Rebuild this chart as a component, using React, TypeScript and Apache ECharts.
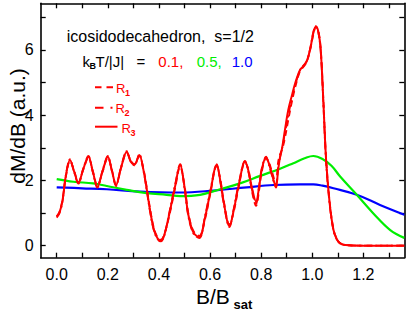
import React, { useEffect, useRef } from "react";
import * as echarts from "echarts";

// ---------- data ----------
const redX = [
  0.0, 0.01, 0.022, 0.036, 0.052, 0.068, 0.085, 0.104, 0.124, 0.142, 0.159, 0.18, 0.2, 0.216, 0.232, 0.252,
  0.274, 0.29, 0.304, 0.323, 0.34, 0.352, 0.365, 0.38, 0.395, 0.407, 0.42, 0.44, 0.463, 0.483, 0.5, 0.515,
  0.535, 0.558, 0.58, 0.6, 0.626, 0.64, 0.652, 0.676, 0.693, 0.711, 0.737, 0.75, 0.763, 0.78, 0.792, 0.802,
  0.819, 0.831, 0.841, 0.858, 0.866, 0.874, 0.882, 0.893, 0.906, 0.92, 0.933, 0.952, 0.965, 0.978, 0.991,
  1.005, 1.014, 1.024, 1.033, 1.043, 1.054, 1.068, 1.083, 1.096, 1.109, 1.13, 1.2, 1.3, 1.36,
];
// R3 (solid)
const r3Y = [
  0.89, 1.0, 1.35, 2.15, 2.63, 2.28, 1.93, 2.35, 2.73, 2.25, 1.81, 2.3, 2.73, 2.3, 1.86, 2.4,
  2.88, 2.58, 2.48, 2.78, 2.3, 1.75, 1.1, 0.5, 0.22, 0.15, 0.3, 0.95, 1.81, 2.48, 1.8, 0.95,
  0.4, 0.26, 0.85, 1.6, 2.48, 2.0, 1.4, 0.6, 1.1, 1.81, 2.58, 2.3, 1.81, 1.35, 1.8, 2.32,
  2.71, 2.5, 2.22, 1.81, 2.3, 2.73, 3.0, 3.55, 4.16, 4.6, 4.98, 5.39, 5.5, 5.65, 6.0,
  6.55, 6.72, 6.55, 6.0, 4.47, 2.63, 1.3, 0.48, 0.2, 0.07, 0.02, 0.0, 0.0, 0.0,
];
// R1 (dashed)
const r1Y = [
  0.9, 1.02, 1.38, 2.12, 2.6, 2.3, 1.95, 2.33, 2.7, 2.27, 1.84, 2.28, 2.7, 2.32, 1.88, 2.38,
  2.85, 2.6, 2.5, 2.75, 2.33, 1.8, 1.15, 0.55, 0.25, 0.18, 0.33, 0.9, 1.75, 2.42, 1.85, 1.0,
  0.45, 0.3, 0.8, 1.55, 2.44, 2.05, 1.45, 0.65, 1.05, 1.75, 2.55, 2.35, 1.7, 1.22, 1.7, 2.25,
  2.68, 2.55, 2.3, 1.9, 2.55, 2.8, 2.95, 3.3, 3.85, 4.4, 4.85, 5.35, 5.48, 5.63, 5.98,
  6.5, 6.7, 6.57, 6.05, 4.55, 2.7, 1.35, 0.5, 0.21, 0.08, 0.02, 0.0, 0.0, 0.0,
];
// R2 (dash-dot)
const r2Y = [
  0.86, 0.98, 1.32, 2.18, 2.65, 2.26, 1.9, 2.37, 2.75, 2.23, 1.78, 2.32, 2.75, 2.28, 1.83, 2.42,
  2.9, 2.56, 2.46, 2.8, 2.27, 1.7, 1.05, 0.47, 0.2, 0.13, 0.28, 1.0, 1.86, 2.5, 1.76, 0.9,
  0.37, 0.23, 0.9, 1.65, 2.5, 1.96, 1.36, 0.57, 1.15, 1.86, 2.6, 2.26, 1.76, 1.28, 1.85, 2.36,
  2.73, 2.46, 2.18, 1.78, 2.4, 2.7, 2.98, 3.45, 4.0, 4.5, 4.92, 5.37, 5.52, 5.66, 6.02,
  6.58, 6.73, 6.52, 5.95, 4.4, 2.57, 1.26, 0.46, 0.19, 0.07, 0.02, 0.0, 0.0, 0.0,
];
// kT/|J| = 0.5
const greenX = [0.0, 0.065, 0.143, 0.196, 0.274, 0.352, 0.43, 0.483, 0.561, 0.639, 0.717, 0.796, 0.874, 0.926, 0.97, 1.004, 1.04, 1.075, 1.109, 1.174, 1.239, 1.305, 1.36];
const greenY = [2.04, 1.96, 1.91, 1.83, 1.71, 1.61, 1.56, 1.52, 1.56, 1.73, 1.91, 2.14, 2.36, 2.53, 2.68, 2.75, 2.66, 2.45, 2.12, 1.56, 0.99, 0.48, 0.24];
// kT/|J| = 1.0
const blueX = [0.0, 0.1, 0.196, 0.326, 0.483, 0.613, 0.744, 0.85, 0.952, 1.004, 1.04, 1.083, 1.174, 1.265, 1.36];
const blueY = [1.79, 1.76, 1.73, 1.66, 1.63, 1.69, 1.79, 1.86, 1.88, 1.88, 1.84, 1.76, 1.56, 1.25, 0.95];

const xTickValues = [0, 0.1, 0.2, 0.3, 0.4, 0.5, 0.6, 0.7, 0.8, 0.9, 1.0, 1.1, 1.2, 1.3];
const xLabelValues = [0, 0.2, 0.4, 0.6, 0.8, 1.0, 1.2];
const yTickValues = [0, 1, 2, 3, 4, 5, 6, 7];
const yLabelValues = [0, 2, 4, 6];

const X_MIN = -0.0626;
const X_MAX = 1.36;
const Y_MIN = -0.368;
const Y_MAX = 7.43;

const pairs = (xs: number[], ys: number[]) => xs.map((x, i) => [x, ys[i]]);

const FONT = "Liberation Sans, Arial, sans-serif";

export default function App() {
  const ref = useRef<HTMLDivElement>(null);
  useEffect(() => {
    if (!ref.current) return;
    const chart = echarts.init(ref.current, null, { renderer: "svg" });
    const axisLine = { show: true, onZero: false, lineStyle: { color: "#000", width: 1.6 } };
    const tickStyle = { show: true, inside: true, length: 5, lineStyle: { color: "#000", width: 1.3 } };
    chart.setOption({
      animation: false,
      backgroundColor: "#fff",
      grid: { left: 40.7, right: 4.7, top: 3.3, bottom: 54.3, containLabel: false },
      xAxis: [
        {
          type: "value",
          min: X_MIN,
          max: X_MAX,
          position: "bottom",
          axisLine,
          axisTick: { ...tickStyle, customValues: xTickValues },
          axisLabel: {
            customValues: xLabelValues,
            formatter: (v: number) => v.toFixed(1),
            fontSize: 16,
            fontFamily: FONT,
            color: "#000",
            margin: 9,
          },
          splitLine: { show: false },
        },
        {
          type: "value",
          min: X_MIN,
          max: X_MAX,
          position: "top",
          axisLine,
          axisTick: { ...tickStyle, customValues: xTickValues },
          axisLabel: { show: false },
          splitLine: { show: false },
        },
      ],
      yAxis: [
        {
          type: "value",
          min: Y_MIN,
          max: Y_MAX,
          position: "left",
          axisLine,
          axisTick: { ...tickStyle, customValues: yTickValues },
          axisLabel: {
            customValues: yLabelValues,
            formatter: (v: number) => String(v),
            fontSize: 16,
            fontFamily: FONT,
            color: "#000",
            margin: 7,
          },
          splitLine: { show: false },
        },
        {
          type: "value",
          min: Y_MIN,
          max: Y_MAX,
          position: "right",
          axisLine,
          axisTick: { ...tickStyle, customValues: yTickValues },
          axisLabel: { show: false },
          splitLine: { show: false },
        },
      ],
      series: [
        {
          type: "line",
          name: "T=1.0",
          data: pairs(blueX, blueY),
          smooth: 0.4,
          symbol: "none",
          lineStyle: { color: "#0000ff", width: 2.2 },
        },
        {
          type: "line",
          name: "T=0.5",
          data: pairs(greenX, greenY),
          smooth: 0.4,
          symbol: "none",
          lineStyle: { color: "#00ee00", width: 2.2 },
        },
        {
          type: "line",
          name: "R1",
          data: pairs(redX, r1Y),
          smooth: 0.35,
          symbol: "none",
          lineStyle: { color: "#ff0000", width: 1.8, type: [6, 4] },
        },
        {
          type: "line",
          name: "R2",
          data: pairs(redX, r2Y),
          smooth: 0.35,
          symbol: "none",
          lineStyle: { color: "#ff0000", width: 1.8, type: [8, 3, 2, 3] },
        },
        {
          type: "line",
          name: "R3",
          data: pairs(redX, r3Y),
          smooth: 0.35,
          symbol: "none",
          lineStyle: { color: "#ff0000", width: 2 },
        },
      ],
      graphic: [
        // axis titles
        { type: "text", x: 196, y: 296, style: { text: "B/B", fill: "#000", fontSize: 21, fontFamily: FONT, align: "left", verticalAlign: "middle" } },
        { type: "text", x: 233.5, y: 304.5, style: { text: "sat", fill: "#000", fontSize: 13, fontWeight: "bold", fontFamily: FONT, align: "left", verticalAlign: "middle" } },
        { type: "text", x: 7, y: 126, rotation: Math.PI / 2, style: { text: "dM/dB (a.u.)", fill: "#000", fontSize: 21, fontFamily: FONT, align: "center", verticalAlign: "top" } },
        // annotation
        { type: "text", x: 66.7, y: 36.5, style: { text: "icosidodecahedron,  s=1/2", fill: "#000", fontSize: 16, fontFamily: FONT, align: "left", verticalAlign: "middle" } },
        { type: "text", x: 82.5, y: 61.5, style: { text: "k", fill: "#000", fontSize: 15, fontFamily: FONT, align: "left", verticalAlign: "middle" } },
        { type: "text", x: 89.5, y: 66, style: { text: "B", fill: "#000", fontSize: 9, fontWeight: "bold", fontFamily: FONT, align: "left", verticalAlign: "middle" } },
        { type: "text", x: 95.5, y: 61.5, style: { text: "T/|J|", fill: "#000", fontSize: 15, fontFamily: FONT, align: "left", verticalAlign: "middle" } },
        { type: "text", x: 136.5, y: 61.5, style: { text: "=", fill: "#000", fontSize: 15, fontFamily: FONT, align: "left", verticalAlign: "middle" } },
        { type: "text", x: 158.3, y: 61.5, style: { text: "0.1,", fill: "#ff0000", fontSize: 15, fontFamily: FONT, align: "left", verticalAlign: "middle" } },
        { type: "text", x: 196.7, y: 61.5, style: { text: "0.5,", fill: "#00ee00", fontSize: 15, fontFamily: FONT, align: "left", verticalAlign: "middle" } },
        { type: "text", x: 231.7, y: 61.5, style: { text: "1.0", fill: "#0000ff", fontSize: 15, fontFamily: FONT, align: "left", verticalAlign: "middle" } },
        // legend R1
        { type: "line", shape: { x1: 95, y1: 87.3, x2: 113.5, y2: 87.3 }, style: { stroke: "#ff0000", lineWidth: 2, lineDash: [6.5, 5] } },
        { type: "text", x: 116, y: 88.7, style: { text: "R", fill: "#ff0000", fontSize: 13, fontFamily: FONT, align: "left", verticalAlign: "middle" } },
        { type: "text", x: 125, y: 93, style: { text: "1", fill: "#ff0000", fontSize: 9, fontWeight: "bold", fontFamily: FONT, align: "left", verticalAlign: "middle" } },
        // legend R2
        { type: "line", shape: { x1: 95, y1: 107.7, x2: 113, y2: 107.7 }, style: { stroke: "#ff0000", lineWidth: 2, lineDash: [8.5, 7, 2, 10] } },
        { type: "text", x: 115.5, y: 108.8, style: { text: "R", fill: "#ff0000", fontSize: 13, fontFamily: FONT, align: "left", verticalAlign: "middle" } },
        { type: "text", x: 124.5, y: 113.3, style: { text: "2", fill: "#ff0000", fontSize: 9, fontWeight: "bold", fontFamily: FONT, align: "left", verticalAlign: "middle" } },
        // legend R3
        { type: "line", shape: { x1: 95, y1: 126.7, x2: 117.5, y2: 126.7 }, style: { stroke: "#ff0000", lineWidth: 2 } },
        { type: "text", x: 121.5, y: 128, style: { text: "R", fill: "#ff0000", fontSize: 13, fontFamily: FONT, align: "left", verticalAlign: "middle" } },
        { type: "text", x: 130.5, y: 132.5, style: { text: "3", fill: "#ff0000", fontSize: 9, fontWeight: "bold", fontFamily: FONT, align: "left", verticalAlign: "middle" } },
      ],
    });
    return () => chart.dispose();
  }, []);
  return (
    <div
      ref={ref}
      style={{ position: "fixed", left: 0, top: 0, width: 409, height: 312, background: "#fff" }}
    />
  );
}
